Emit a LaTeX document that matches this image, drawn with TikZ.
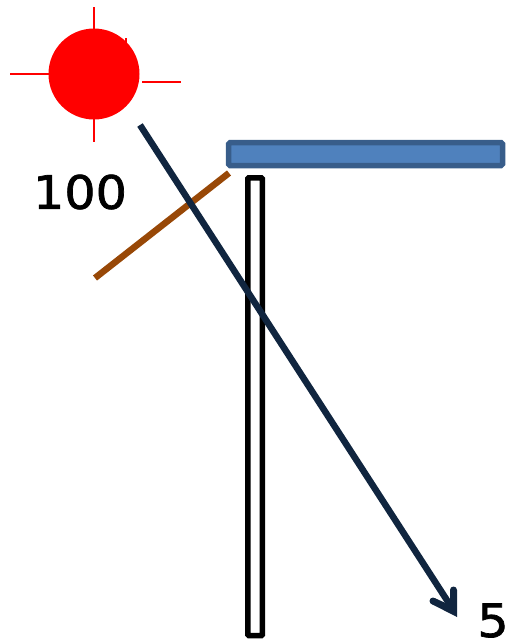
\documentclass[tikz,border=0pt]{standalone}
\usepackage{fontspec}
\setmainfont{DejaVu Sans}[FakeBold=1.5,FakeStretch=1.07]
\definecolor{barfill}{HTML}{4F81BD}
\definecolor{barline}{HTML}{385D8A}
\definecolor{navy}{HTML}{10253F}
\definecolor{brownline}{HTML}{984807}
\begin{document}
\begin{tikzpicture}[x=1pt,y=-1pt,
  ray/.style={draw=red,line width=1.8pt},
  label/.style={inner sep=0pt,font=\fontsize{46}{46}\selectfont,text=black,anchor=center},
  beam/.style={line width=6.5pt}]
\useasboundingbox (0,0) rectangle (509,641);
% pillar
\draw[black,line width=5.5pt,fill=white,rounded corners=1pt] (247.8,177.8) rectangle (262.4,635.5);
% sun
\fill[red] (94,74) circle[radius=45.5];
\fill[red] (125,38) -- (127,38) -- (127,46) -- (125,46) -- cycle;
\coordinate (r1a) at (94,7); \coordinate (r1b) at (94,29);
\coordinate (r2a) at (94,119); \coordinate (r2b) at (94,142);
\coordinate (r3a) at (10,74); \coordinate (r3b) at (49,74);
\coordinate (r4a) at (142,82); \coordinate (r4b) at (181,82);
\draw[ray] (r1a) -- (r1b);
\draw[ray] (r2a) -- (r2b);
\draw[ray] (r3a) -- (r3b);
\draw[ray] (r4a) -- (r4b);
% blue bar
\draw[draw=barline,fill=barfill,line width=5.5pt,rounded corners=1.5pt] (228.6,142.6) rectangle (502.5,165.6);
% brown line
\coordinate (b1) at (229,173); \coordinate (b2) at (95,278);
\draw[brownline,beam] (b1) -- (b2);
% navy arrow
\coordinate (n1) at (140,125); \coordinate (n2) at (452,608);
\coordinate (h1) at (433,601); \coordinate (h2) at (453.5,590);
\draw[navy,beam] (n1) -- (n2);
\fill[navy] (457,617) -- (431.5,604) -- (434.5,598) -- (450,605) -- (450,590) -- (457,590) -- cycle;
\fill[navy] (h1) circle[radius=3.5] (h2) circle[radius=3.5];
% labels
\node[label] (hundred) at (80,192) {100};
\node[label] (five) at (493,620.5) {5};
\end{tikzpicture}
\end{document}
